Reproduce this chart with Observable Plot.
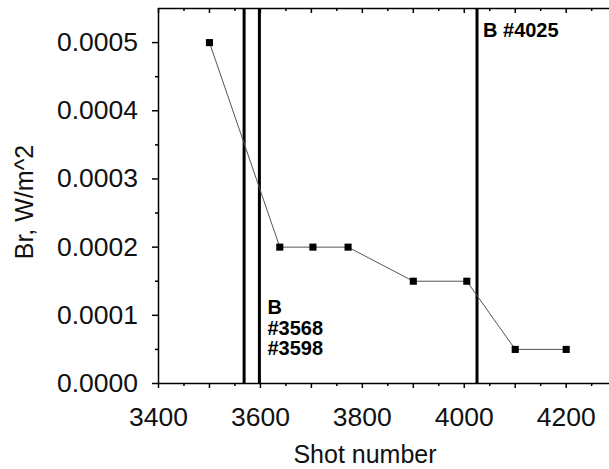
<!DOCTYPE html>
<html>
<head>
<meta charset="utf-8">
<script src="https://cdn.jsdelivr.net/npm/d3@7"></script>
<script src="https://cdn.jsdelivr.net/npm/@observablehq/plot@0.6"></script>
<style>
  html, body { margin: 0; padding: 0; background: #fff; overflow: hidden; }
</style>
</head>
<body>
<div id="chart"></div>
<script>
// Measured radial field Br per shot
const shots = [3500, 3638, 3703, 3772, 3900, 4005, 4100, 4200];
const brValues = [0.0005, 0.0002, 0.0002, 0.0002, 0.00015, 0.00015, 0.00005, 0.00005];

// Shots where B was changed (vertical markers)
const markerShots = [3568, 3598, 4025];

// Axis ticks
const xLabelTicks = [3400, 3600, 3800, 4000, 4200];
const xMajorTicks = [3400, 3500, 3600, 3700, 3800, 3900, 4000, 4100, 4200];
const xMinorTicks = [3450, 3550, 3650, 3750, 3850, 3950, 4050, 4150, 4250];
const yLabelTicks = [0, 0.0001, 0.0002, 0.0003, 0.0004, 0.0005];
const yMinorTicks = [0.00005, 0.00015, 0.00025, 0.00035, 0.00045];

const points = shots.map((shot, i) => ({shot, br: brValues[i]}));
const noteLow = [{shot: markerShots[1], text: `B\n#${markerShots[0]}\n#${markerShots[1]}`}];
const noteHigh = [{shot: markerShots[2], text: `B #${markerShots[2]}`}];

const axisStroke = {stroke: "#000", strokeWidth: 1.5};
const blank = () => "";

const chart = Plot.plot({
  width: 609,
  height: 469,
  marginLeft: 158,
  marginRight: 0,
  marginTop: 8,
  marginBottom: 86,
  style: {
    fontFamily: "'Liberation Sans', Arial, sans-serif",
    fontSize: "25px",
    color: "#111",
    background: "#fff"
  },
  x: {domain: [3400, 4285], label: null},
  y: {domain: [0, 0.00055], label: null},
  marks: [
    // vertical markers
    Plot.ruleX(markerShots, {x: d => d, stroke: "#000", strokeWidth: 3}),
    // data
    Plot.line(points, {x: "shot", y: "br", stroke: "#555", strokeWidth: 1}),
    Plot.dot(points, {x: "shot", y: "br", symbol: "square", r: 4, fill: "#000", stroke: "none"}),
    // frame: left, bottom, top
    Plot.ruleX([3400], axisStroke),
    Plot.ruleY([0], axisStroke),
    Plot.ruleY([0.00055], axisStroke),
    // bottom axis ticks and labels
    Plot.axisX({ticks: xMajorTicks, tickSize: 5, tickFormat: blank, ...axisStroke}),
    Plot.axisX({ticks: xMinorTicks, tickSize: 3, tickFormat: blank, ...axisStroke}),
    Plot.axisX({ticks: xLabelTicks, tickSize: 0, tickPadding: 24, tickFormat: d3.format("d"),
      fontSize: 26.5, fill: "#111"}),
    // inward ticks along the top edge
    Plot.ruleX(xMajorTicks, {x: d => d, insetBottom: 370, ...axisStroke}),
    Plot.ruleX(xMinorTicks, {x: d => d, insetBottom: 372, ...axisStroke}),
    // left axis
    Plot.axisY({ticks: yLabelTicks, tickSize: 6, tickPadding: 14.5, tickFormat: d3.format(".4f"),
      fontSize: 26.5, fill: "#111", ...axisStroke}),
    Plot.axisY({ticks: yMinorTicks, tickSize: 3, tickFormat: blank, ...axisStroke}),
    // annotations
    Plot.text(noteHigh, {x: "shot", text: "text", frameAnchor: "top", textAnchor: "start", lineAnchor: "top",
      dx: 6, dy: 14.7, fontWeight: "bold", fontSize: 20, fill: "#000"}),
    Plot.text(noteLow, {x: "shot", text: "text", frameAnchor: "top", textAnchor: "start", lineAnchor: "top",
      dx: 8, dy: 291, fontWeight: "bold", fontSize: 20, lineHeight: 1.03, fill: "#000"}),
    // axis titles
    Plot.text(["Shot number"], {frameAnchor: "bottom", textAnchor: "middle", lineAnchor: "middle",
      dx: -19, dy: 71, fontSize: 25, fill: "#111"}),
    Plot.text(["Br, W/m^2"], {frameAnchor: "left", textAnchor: "middle", lineAnchor: "middle",
      rotate: -90, dx: -134, dy: 6, fontSize: 25, fill: "#111"})
  ]
});

document.getElementById("chart").appendChild(chart);
</script>
</body>
</html>
